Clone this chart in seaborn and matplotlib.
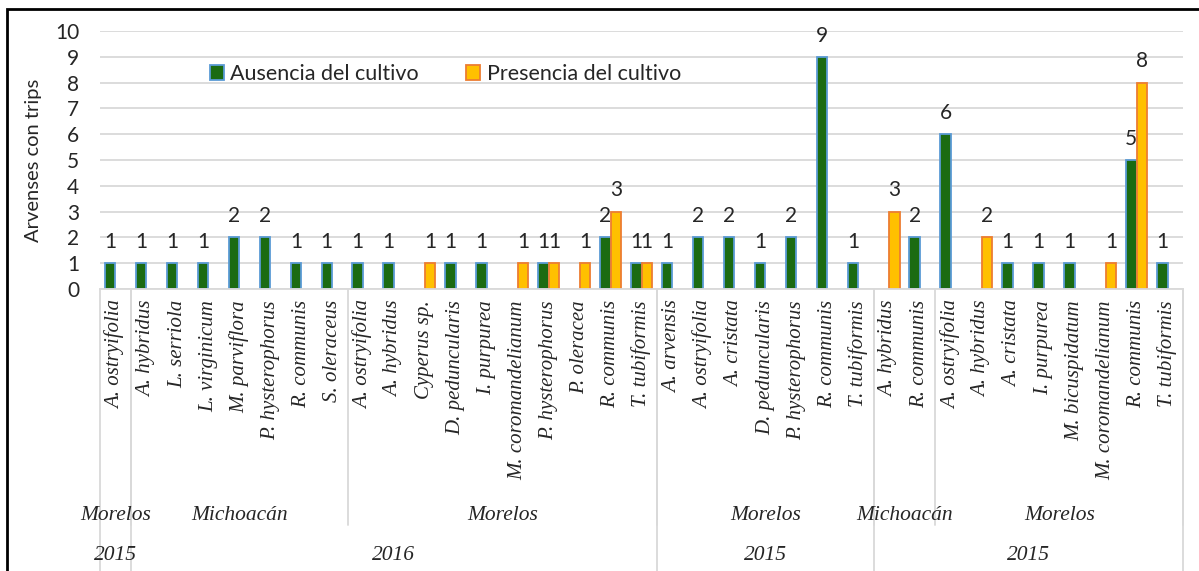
import numpy as np
import pandas as pd
import seaborn as sns
import matplotlib
matplotlib.use("Agg")
import matplotlib.pyplot as plt
from matplotlib.patches import Patch, Rectangle

# species (first axis level), one entry per category
species = [
    "A. ostryifolia",
    "A. hybridus", "L. serriola", "L. virginicum", "M. parviflora",
    "P. hysterophorus", "R. communis", "S. oleraceus",
    "A. ostryifolia", "A. hybridus", "Cyperus sp.", "D. peduncularis",
    "I. purpurea", "M. coromandelianum", "P. hysterophorus", "P. oleracea",
    "R. communis", "T. tubiformis",
    "A. arvensis", "A. ostryifolia", "A. cristata", "D. peduncularis",
    "P. hysterophorus", "R. communis", "T. tubiformis",
    "A. hybridus", "R. communis",
    "A. ostryifolia", "A. hybridus", "A. cristata", "I. purpurea",
    "M. bicuspidatum", "M. coromandelianum", "R. communis", "T. tubiformis",
]
ausencia = [
    1,
    1, 1, 1, 2, 2, 1, 1,
    1, 1, None, 1, 1, None, 1, None, 2, 1,
    1, 2, 2, 1, 2, 9, 1,
    None, 2,
    6, None, 1, 1, 1, None, 5, 1,
]
presencia = [
    None,
    None, None, None, None, None, None, None,
    None, None, 1, None, None, 1, 1, 1, 3, 1,
    None, None, None, None, None, None, None,
    3, None,
    None, 2, None, None, None, 1, 8, None,
]
# (label, number of categories)
state_groups = [("Morelos", 1), ("Michoacán", 7), ("Morelos", 10),
                ("Morelos", 7), ("Michoacán", 2), ("Morelos", 8)]
year_groups = [("2015", 1), ("2016", 17), ("2015", 7), ("2015", 10)]

series = ["Ausencia del cultivo", "Presencia del cultivo"]
fill = ["#1b6b12", "#ffc000"]
edge = ["#5b9bd5", "#ed7d31"]

keys = [str(i) for i in range(len(species))]
df = pd.DataFrame({
    "cat": keys * 2,
    "serie": [series[0]] * len(keys) + [series[1]] * len(keys),
    "valor": ausencia + presencia,
}).dropna()

sns.set_theme(style="white")
plt.rcParams["font.family"] = ["Lato", "DejaVu Sans"]

fig = plt.figure(figsize=(11.99, 5.71), dpi=100)
ax = fig.add_axes([100 / 1199, 282 / 571, 1083 / 1199, 258 / 571])

sns.barplot(data=df, x="cat", y="valor", hue="serie", order=keys,
            hue_order=series, palette=fill, width=0.68, errorbar=None,
            saturation=1, legend=False, ax=ax)

for cont, ec in zip(ax.containers, edge):
    for b in cont:
        b.set_edgecolor(ec)
        b.set_linewidth(1.3)
    ax.bar_label(cont, fmt="{:g}", padding=8, fontsize=15)

ax.set_xlim(-0.5, len(species) - 0.5)
ax.set_ylim(0, 10)
ax.set_yticks(range(0, 11))
ax.yaxis.grid(True, color="#d9d9d9", linewidth=1.3)
ax.set_axisbelow(True)
for s in ["left", "right", "top"]:
    ax.spines[s].set_visible(False)
ax.spines["bottom"].set_color("#d9d9d9")
ax.spines["bottom"].set_linewidth(1.3)
ax.tick_params(axis="y", length=0, pad=15, labelsize=15)
ax.tick_params(axis="x", length=0, pad=8)
ax.set_xticks(range(len(species)))
ax.set_xticklabels(species, rotation=90, family="Liberation Serif",
                   style="italic", fontsize=15)
ax.set_xlabel("")
ax.set_ylabel("Arvenses con trips", fontsize=14.5)
ax.yaxis.set_label_coords(-0.054, 0.5)

# multi-level category axis
tr = ax.get_xaxis_transform()
line_kw = dict(color="#d9d9d9", linewidth=1.3, transform=tr, clip_on=False)
y_state = (289 - 515) / 258
y_year = (289 - 555) / 258
y_mid = (289 - 525) / 258
y_end = (289 - 575) / 258

start = -0.5
for name, n in state_groups:
    ax.text(start + n / 2, y_state, name, transform=tr, ha="center",
            va="center", family="Liberation Serif", style="italic", fontsize=15.5)
    start += n
    ax.plot([start, start], [0, y_mid], **line_kw)

start = -0.5
ax.plot([start, start], [0, y_end], **line_kw)
for name, n in year_groups:
    ax.text(start + n / 2, y_year, name, transform=tr, ha="center",
            va="center", family="Liberation Serif", style="italic", fontsize=15.5)
    start += n
    ax.plot([start, start], [0, y_end], **line_kw)

handles = [Patch(facecolor=f, edgecolor=e, linewidth=1.3) for f, e in zip(fill, edge)]
fig.legend(handles, series, loc="center left", bbox_to_anchor=(210 / 1199, 1 - 74 / 571),
           ncol=2, frameon=False, fontsize=15.5, handlelength=0.65, handleheight=0.65,
           handletextpad=0.3, columnspacing=2.2, borderpad=0, borderaxespad=0)

# outer chart border
fig.patches.append(Rectangle((7 / 1199, -0.1), 1.2, 0.1 + 562 / 571, fill=False,
                             edgecolor="black", linewidth=2, transform=fig.transFigure))

fig.savefig("out.png", dpi=100)
